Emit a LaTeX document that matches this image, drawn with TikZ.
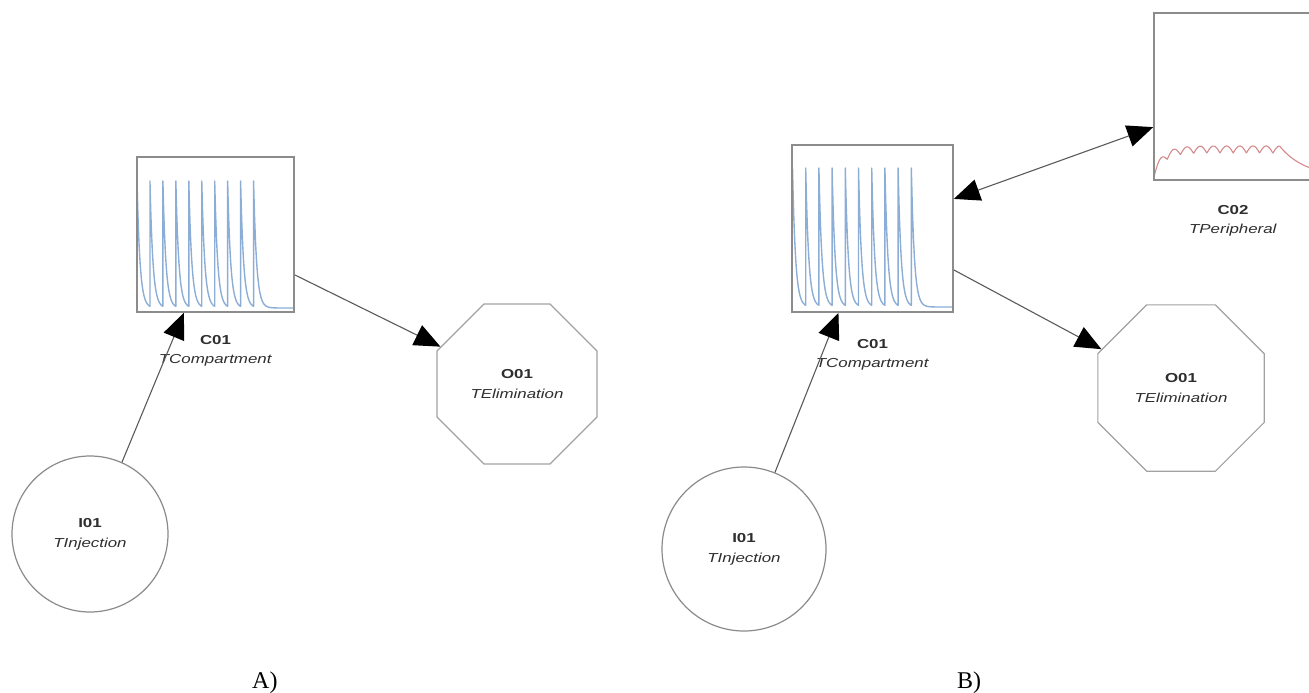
\documentclass[tikz,border=0pt]{standalone}
\usepackage{fontspec}
\setmainfont{Liberation Sans}
\newfontfamily\labfont[FakeStretch=1.3]{Liberation Sans}
\newfontfamily\panelfont{Liberation Serif}
\usetikzlibrary{arrows.meta,shapes.geometric}
\definecolor{boxgray}{HTML}{8C8C8C}
\definecolor{shapegray}{HTML}{8A8A8A}
\definecolor{linegray}{HTML}{5A5A5A}
\definecolor{txtgray}{HTML}{2E2E2E}
\definecolor{plotblue}{HTML}{8CAED6}
\definecolor{plotred}{HTML}{D48A8A}
\tikzset{
  cbox/.style={draw=boxgray, line width=1.6pt, inner sep=0pt},
  inj/.style={circle, draw=shapegray, line width=1.2pt, inner sep=0pt, align=center,
    text=txtgray, font=\labfont\fontsize{13}{20}\selectfont},
  elim/.style={regular polygon, regular polygon sides=8, draw=shapegray!80, line width=1.2pt,
    inner sep=0pt, align=center, text=txtgray, font=\labfont\fontsize{13}{20}\selectfont},
  lab/.style={align=center, text=txtgray, inner sep=0pt, font=\labfont\fontsize{13}{19}\selectfont},
  conn/.style={draw=linegray, line width=1.1pt, -{Triangle[length=26pt,width=22pt,color=black]}},
  dconn/.style={draw=linegray, line width=1.1pt, {Triangle[length=26pt,width=22pt,color=black]}-{Triangle[length=26pt,width=22pt,color=black]}},
  bluecurve/.style={draw=plotblue, line width=1.4pt, line join=round},
  redcurve/.style={draw=plotred, line width=1.1pt, line join=round},
  panel/.style={inner sep=0pt, anchor=base west, font=\panelfont\fontsize{24}{28}\selectfont}
}
\begin{document}
\begin{tikzpicture}[x=1pt,y=-1pt]
\useasboundingbox (0,0) rectangle (1309,693);
\clip (0,0) rectangle (1309,693);

% ---------------- Panel A ----------------
\draw[bluecurve] (137,181) foreach \i in {0,...,8} { -- plot[domain=0:12.95, samples=30, variable=\vv] ({137+12.95*\i+\vv},{308-127*exp(-\vv/3)}) } -- plot[domain=0:40.4, samples=40, variable=\vv] ({253.55+\vv},{308-127*exp(-\vv/3)});
\node[cbox, minimum width=157pt, minimum height=155pt] (C01A) at (215.5,234.5) {};
\node[lab] (C01Alab) at (215.5,351) {\textbf{C01}\\\textit{TCompartment}};

\node[inj, minimum size=156pt] (I01A) at (90,534) {\textbf{I01}\\\textit{TInjection}};
\node[elim, minimum size=173pt] (O01A) at (517,384) {\textbf{O01}\\\textit{TElimination}};

\draw[conn] (I01A.66) -- (C01A.-112);
\draw[conn] (C01A.-27) -- (O01A.154);

\node[panel] (PA) at (252,688) {A)};

% ---------------- Panel B ----------------
\draw[bluecurve] (792.5,168) foreach \i in {0,...,8} { -- plot[domain=0:13.2, samples=30, variable=\vv] ({792.5+13.2*\i+\vv},{307-139*exp(-\vv/3)}) } -- plot[domain=0:41.7, samples=40, variable=\vv] ({911.3+\vv},{307-139*exp(-\vv/3)});
\node[cbox, minimum width=161pt, minimum height=167pt] (C01B) at (872.5,228.5) {};
\node[lab] (C01Blab) at (872.5,354.5) {\textbf{C01}\\\textit{TCompartment}};

\draw[redcurve] plot[domain=0:119, samples=300, variable=\vv] ({1154+\vv},{177-24*(1-exp(-\vv/10))-7*sin(180*mod(\vv,13.2)/13.2)}) -- plot[domain=0:40, samples=60, variable=\vv] ({1273+\vv},{177-(24+7*sin(min(90,\vv/13.2*180)))*exp(-max(0,\vv-6.6)/25)});
\node[cbox, minimum width=158pt, minimum height=167pt] (C02) at (1233,96.5) {};
\node[lab] (C02lab) at (1233,221) {\textbf{C02}\\\textit{TPeripheral}};

\node[inj, minimum size=164pt] (I01B) at (744,549) {\textbf{I01}\\\textit{TInjection}};
\node[elim, minimum size=180pt] (O01B) at (1181,388) {\textbf{O01}\\\textit{TElimination}};

\draw[conn] (I01B.68) -- (C01B.-112);
\draw[conn] (C01B.-27) -- (O01B.154);
\draw[dconn] (C01B.20.5) -- (C02.201);

\node[panel] (PB) at (957,688) {B)};
\end{tikzpicture}
\end{document}
